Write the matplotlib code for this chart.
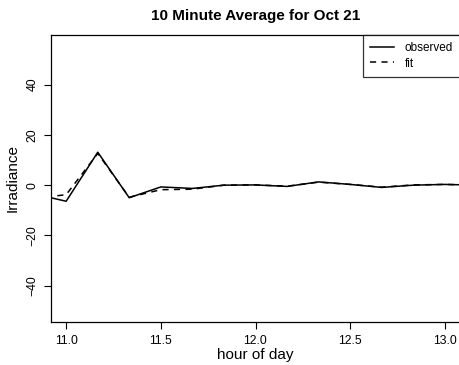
import matplotlib
matplotlib.use('Agg')
import matplotlib.pyplot as plt

plt.rcParams['font.family'] = ['Liberation Sans', 'DejaVu Sans']

# ten minute steps, in hours
hours = [10.833, 11.0, 11.167, 11.333, 11.5, 11.667, 11.833, 12.0,
         12.167, 12.333, 12.5, 12.667, 12.833, 13.0, 13.167]
observed = [-3.5, -6.4, 13.1, -5.0, -0.7, -1.3, 0.0, 0.1,
            -0.5, 1.3, 0.3, -0.9, 0.0, 0.3, 0.0]
fit = [-5.2, -3.8, 12.6, -4.8, -1.8, -1.6, 0.0, 0.1,
       -0.4, 1.2, 0.3, -0.8, 0.1, 0.3, 0.0]

xticks = [11.0, 11.5, 12.0, 12.5, 13.0]
yticks = [-40, -20, 0, 20, 40]

fig = plt.figure(figsize=(4.59, 3.65), dpi=100)
ax = fig.add_axes([51 / 459, 1 - 322 / 365, 409 / 459, 287 / 365])

ax.plot(hours, observed, color='black', lw=1.1, linestyle='-', label='observed')
ax.plot(hours, fit, color='black', lw=1.1, linestyle=(0, (4, 3.5)), label='fit')

ax.set_xlim(10.92, 13.08)
ax.set_ylim(-54.4, 59.7)
ax.set_xticks(xticks)
ax.set_xticklabels(['%.1f' % t for t in xticks])
ax.set_yticks(yticks)
ax.set_yticklabels([str(t).replace('-', '\u2212') for t in yticks],
                   rotation=90, va='center')
ax.tick_params(direction='out', length=5, width=0.8, labelsize=8.8,
               pad=4, colors='black')
for s in ax.spines.values():
    s.set_linewidth(0.9)

ax.set_xlabel('hour of day', fontsize=11, labelpad=1)
ax.set_ylabel('Irradiance', fontsize=11, labelpad=5)
ax.set_title('10 Minute Average for Oct 21', fontsize=11,
             fontweight='bold', pad=11)

leg = ax.legend(loc='upper right', fontsize=8.5, frameon=True, fancybox=False,
                edgecolor='black', borderaxespad=0, handlelength=2.0,
                handletextpad=0.9, borderpad=0.6, labelspacing=0.3)
leg.get_frame().set_linewidth(0.9)

fig.savefig('out.png', dpi=100)
plt.close('all')
